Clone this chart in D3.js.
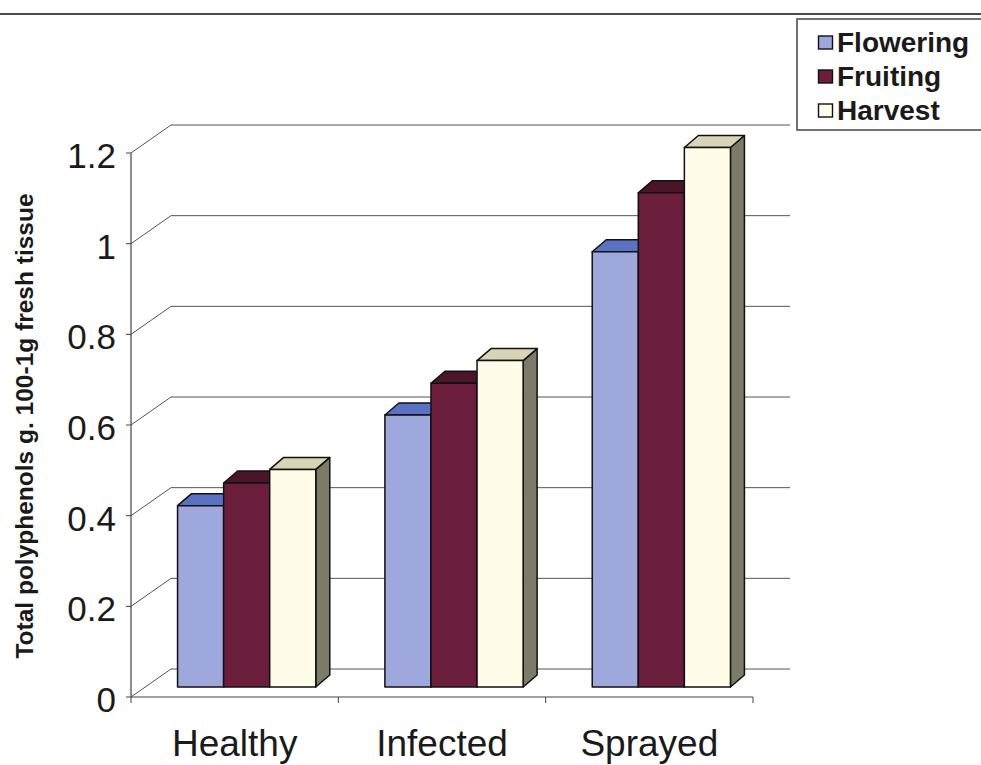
<!DOCTYPE html>
<html>
<head>
<meta charset="utf-8">
<script src="https://cdn.jsdelivr.net/npm/d3@7/dist/d3.min.js"></script>
<style>
  html, body { margin: 0; padding: 0; background: #ffffff; }
  svg { display: block; }
  text { font-family: "Liberation Sans", Arial, sans-serif; }
</style>
</head>
<body>
<svg id="chart" width="981" height="765"></svg>
<script>
// Categories, series and values
const categories = ["Healthy", "Infected", "Sprayed"];
const seriesNames = ["Flowering", "Fruiting", "Harvest"];
const flowering = [0.40, 0.60, 0.96];
const fruiting  = [0.45, 0.67, 1.09];
const harvest   = [0.48, 0.72, 1.19];
const yTicks = [0, 0.2, 0.4, 0.6, 0.8, 1, 1.2];
const yTitle = "Total polyphenols g. 100-1g fresh tissue";

const seriesValues = [flowering, fruiting, harvest];

// Face colours per series: front, top, side
const faceColors = [
  { front: "#9fa8dd", top: "#5b72c2", side: "#3f4f8c" },
  { front: "#6b1e3c", top: "#4a1429", side: "#3a0f20" },
  { front: "#fffde9", top: "#d8d4b6", side: "#7c7b68" }
];

const svg = d3.select("#chart");

// Plot geometry (front plane of the 3D box)
const x0 = 131, x1 = 753, yBase = 697, yTop = 153;
// Depth of the box (front axis to back wall)
const wallDx = 40, wallDy = -28;
// Bars sit part way into the box; their own depth
const barOffDx = 12, barOffDy = -10;
const barDepthDx = 14, barDepthDy = -12;

const y = d3.scaleLinear().domain([0, 1.2]).range([yBase, yTop]);
const x = d3.scaleBand().domain(categories).range([x0, x1]).paddingInner(0).paddingOuter(0);
const inner = d3.scaleBand().domain(seriesNames).range([0, x.bandwidth()]).paddingInner(0).paddingOuter(0.75);

// Top rule across the page
svg.append("line")
  .attr("x1", 0).attr("x2", 981).attr("y1", 14).attr("y2", 14)
  .attr("stroke", "#4a4a4a").attr("stroke-width", 2);

const grid = svg.append("g").attr("stroke", "#555").attr("stroke-width", 1).attr("fill", "none");

// Back wall gridlines with their diagonal run along the left wall
yTicks.forEach(t => {
  const yy = y(t);
  grid.append("path")
    .attr("d", `M${x0},${yy} L${x0 + wallDx},${yy + wallDy} L790,${yy + wallDy}`);
});

// Front vertical axis
svg.append("line")
  .attr("x1", x0).attr("x2", x0).attr("y1", y(1.2)).attr("y2", yBase)
  .attr("stroke", "#444").attr("stroke-width", 1.2);

// Front floor edge
svg.append("line")
  .attr("x1", x0).attr("x2", x1).attr("y1", yBase).attr("y2", yBase)
  .attr("stroke", "#444").attr("stroke-width", 1.2);

// Y ticks and labels
const yAxis = svg.append("g");
yTicks.forEach(t => {
  yAxis.append("line")
    .attr("x1", x0 - 5).attr("x2", x0).attr("y1", y(t)).attr("y2", y(t))
    .attr("stroke", "#444").attr("stroke-width", 1);
  yAxis.append("text")
    .attr("x", 116).attr("y", y(t) + 15)
    .attr("text-anchor", "end")
    .attr("font-size", 35)
    .attr("fill", "#1a1a1a")
    .text(d3.format("~g")(t));
});

// Category ticks and labels
const xTickPos = [x0].concat(categories.map(c => x(c) + x.bandwidth()));
xTickPos.forEach(p => {
  svg.append("line")
    .attr("x1", p).attr("x2", p).attr("y1", yBase).attr("y2", yBase + 6)
    .attr("stroke", "#444").attr("stroke-width", 1);
});
categories.forEach(c => {
  svg.append("text")
    .attr("x", x(c) + x.bandwidth() / 2)
    .attr("y", 756)
    .attr("text-anchor", "middle")
    .attr("font-size", 37)
    .attr("fill", "#1a1a1a")
    .text(c);
});

// Bars, drawn left to right so each covers the side of the one before
const bars = svg.append("g").attr("stroke", "#111").attr("stroke-width", 1.5).attr("stroke-linejoin", "round");
categories.forEach((c, ci) => {
  seriesNames.forEach((s, si) => {
    const v = seriesValues[si][ci];
    const left = x(c) + inner(s) + barOffDx;
    const right = left + inner.bandwidth();
    const bottom = y(0) + barOffDy;
    const top = y(v) + barOffDy;
    const col = faceColors[si];
    // side face
    bars.append("path")
      .attr("fill", col.side)
      .attr("d", `M${right},${bottom} L${right + barDepthDx},${bottom + barDepthDy} L${right + barDepthDx},${top + barDepthDy} L${right},${top} Z`);
    // top face
    bars.append("path")
      .attr("fill", col.top)
      .attr("d", `M${left},${top} L${left + barDepthDx},${top + barDepthDy} L${right + barDepthDx},${top + barDepthDy} L${right},${top} Z`);
    // front face
    bars.append("rect")
      .attr("x", left).attr("y", top)
      .attr("width", inner.bandwidth()).attr("height", bottom - top)
      .attr("fill", col.front);
  });
});

// Y axis title
svg.append("text")
  .attr("transform", `translate(33,${426}) rotate(-90)`)
  .attr("text-anchor", "middle")
  .attr("font-size", 24.5)
  .attr("font-weight", "bold")
  .attr("fill", "#1a1a1a")
  .text(yTitle);

// Legend
const legend = svg.append("g");
legend.append("rect")
  .attr("x", 797).attr("y", 19).attr("width", 200).attr("height", 111)
  .attr("fill", "#ffffff").attr("stroke", "#444").attr("stroke-width", 1.5);
seriesNames.forEach((s, i) => {
  const base = 52 + i * 34;
  legend.append("rect")
    .attr("x", 818.5).attr("y", base - 16).attr("width", 14).attr("height", 13)
    .attr("fill", faceColors[i].front).attr("stroke", "#111").attr("stroke-width", 1.4);
  legend.append("text")
    .attr("x", 837).attr("y", base)
    .attr("font-size", 28)
    .attr("font-weight", "bold")
    .attr("fill", "#1a1a1a")
    .text(s);
});
</script>
</body>
</html>
